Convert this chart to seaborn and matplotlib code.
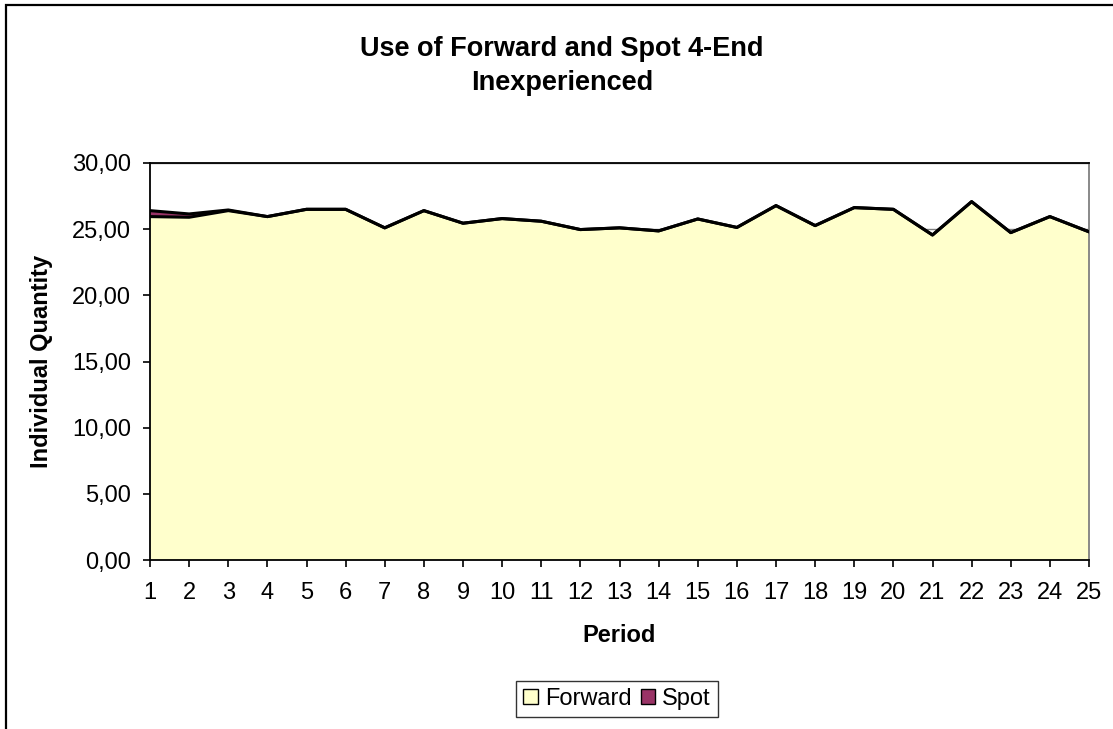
import matplotlib
matplotlib.use("Agg")
import matplotlib.pyplot as plt
import matplotlib.patches as mpatches
from matplotlib.ticker import FuncFormatter, MultipleLocator
import seaborn as sns
import pandas as pd

periods = list(range(1, 26))
forward = [25.95, 25.9, 26.4, 25.95, 26.5, 26.5, 25.1, 26.4, 25.45, 25.8,
           25.6, 24.97, 25.1, 24.87, 25.77, 25.13, 26.78, 25.27, 26.63, 26.5,
           24.56, 27.08, 24.74, 25.95, 24.8]
spot = [0.45, 0.25, 0.05, 0.0, 0.0, 0.0, 0.0, 0.0, 0.0, 0.0,
        0.0, 0.0, 0.0, 0.0, 0.0, 0.0, 0.0, 0.0, 0.0, 0.0,
        0.0, 0.0, 0.0, 0.0, 0.0]
series_names = ["Forward", "Spot"]
colors = ["#FFFFCC", "#993366"]
title = "Use of Forward and Spot 4-End\nInexperienced"
xlabel = "Period"
ylabel = "Individual Quantity"

df = pd.DataFrame({"Period": periods, "Forward": forward, "Spot": spot})
df["Total"] = df["Forward"] + df["Spot"]

sns.set_theme(style="white")
plt.rcParams["font.family"] = ["Liberation Sans", "DejaVu Sans"]
plt.rcParams["text.color"] = "black"
plt.rcParams["axes.labelcolor"] = "black"

W, H = 1113, 729
fig = plt.figure(figsize=(W / 100, H / 100), dpi=100)
ax = fig.add_axes([150 / W, 1 - 560 / H, (1089 - 150) / W, (560 - 163) / H])

ax.set_axisbelow(True)
ax.yaxis.grid(True, color="#808080", lw=1)

ax.stackplot(df["Period"], df["Forward"], df["Spot"], colors=colors,
             edgecolor="none", zorder=2)
sns.lineplot(data=df, x="Period", y="Forward", color="black", lw=2.2, ax=ax, zorder=3)
sns.lineplot(data=df, x="Period", y="Total", color="black", lw=2.2, ax=ax, zorder=3)

ax.set_xlim(1, 25)
ax.set_ylim(0, 30)
ax.set_xticks(periods)
ax.yaxis.set_major_locator(MultipleLocator(5))
ax.yaxis.set_major_formatter(FuncFormatter(lambda v, p: f"{v:.2f}".replace(".", ",")))

for s in ax.spines.values():
    s.set_visible(True)
    s.set_color("black")
    s.set_linewidth(1.3)
ax.spines["right"].set_color("#808080")

ax.tick_params(axis="both", direction="out", length=5, width=1.2, color="black",
               labelsize=17, labelcolor="black", left=True, bottom=True)
ax.tick_params(axis="x", pad=11)
ax.tick_params(axis="y", pad=8.5)

ax.set_xlabel(xlabel, fontsize=17, fontweight="bold", labelpad=14, color="black")
ax.set_ylabel(ylabel, fontsize=17, fontweight="bold", labelpad=14, color="black")
fig.text(562 / W, 1 - 66 / H, title, ha="center", va="center",
         fontsize=19.5, fontweight="bold", linespacing=1.45, color="black")

handles = [mpatches.Patch(facecolor=c, edgecolor="black", lw=1, label=n)
           for c, n in zip(colors, series_names)]
leg = fig.legend(handles=handles, loc="center", bbox_to_anchor=(617 / W, 1 - 699 / H),
                 ncol=2, fontsize=17, frameon=True, fancybox=False,
                 handlelength=0.6, handleheight=0.6, handletextpad=0.3,
                 columnspacing=0.4, borderpad=0.3, borderaxespad=0)
leg.get_frame().set_edgecolor("black")
leg.get_frame().set_linewidth(1)
for t in leg.get_texts():
    t.set_color("black")

# outer chart border
fig.patches.append(mpatches.Rectangle((6 / W, -0.2), 2, 1.2 - 5 / H, transform=fig.transFigure,
                                      fill=False, edgecolor="black", lw=1.6))

fig.savefig("out.png", dpi=100, facecolor="white")
